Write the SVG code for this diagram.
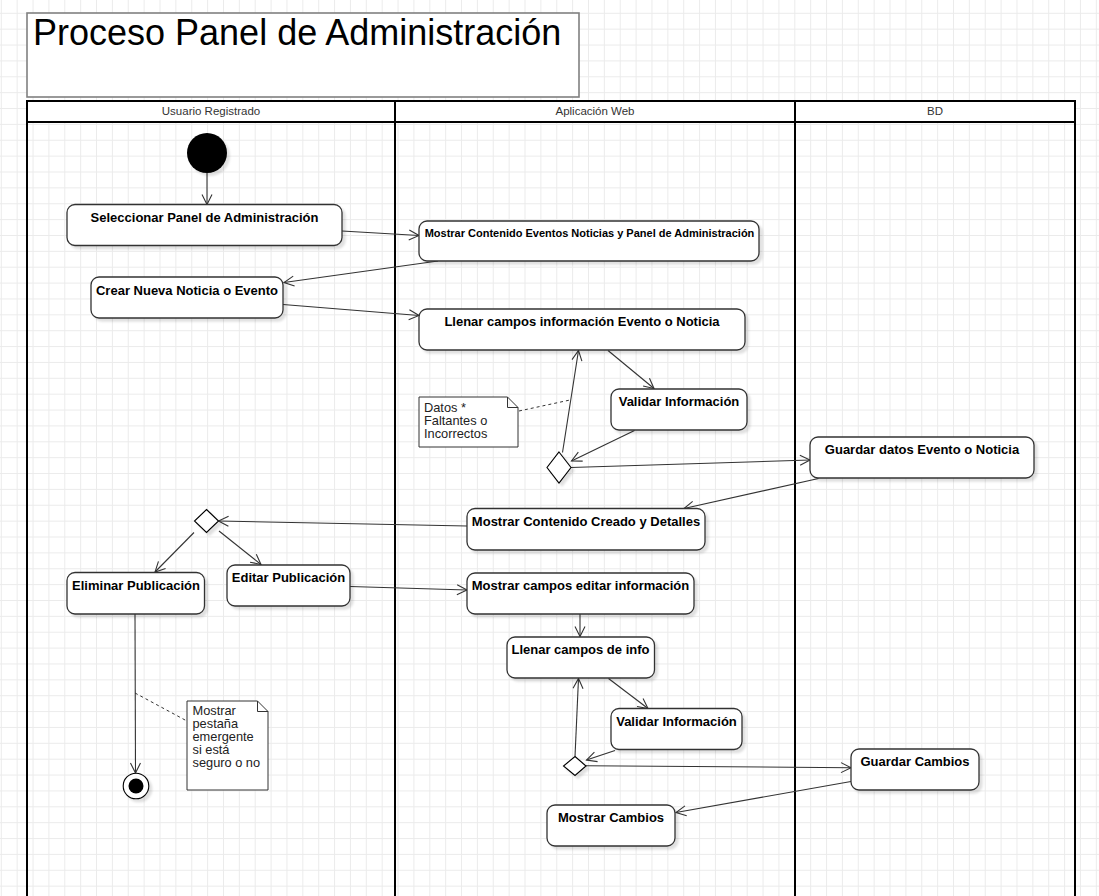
<svg xmlns="http://www.w3.org/2000/svg" width="1099" height="896" viewBox="0 0 1099 896">
<style>
.node{fill:#fff;stroke:#333;stroke-width:1.3}
.lbl{font-family:"Liberation Sans",Arial,sans-serif;font-size:13px;font-weight:bold;fill:#000;text-anchor:middle}
.lbl.small{font-size:11px}
.lane{fill:none;stroke:#000;stroke-width:2}
.hdr{font-family:"Liberation Sans",Arial,sans-serif;font-size:11.5px;fill:#333;text-anchor:middle}
.note{fill:#fff;stroke:#333;stroke-width:1}
.ntxt{font-family:"Liberation Sans",Arial,sans-serif;font-size:12.8px;fill:#222}
.edge{fill:none;stroke:#333;stroke-width:1.1;marker-end:url(#arr)}
.dash{fill:none;stroke:#333;stroke-width:1;stroke-dasharray:3 3}
.dia{fill:#fff;stroke:#000;stroke-width:1.1}
</style>
<defs>
<pattern id="grid" patternUnits="userSpaceOnUse" x="0.8" y="12.8" width="15.87" height="15.87">
<path d="M0.5,0 V15.87 M0,0.5 H15.87" stroke="#ebebeb" stroke-width="1" fill="none"/>
</pattern>
<filter id="sh" x="-20%" y="-20%" width="150%" height="160%">
<feDropShadow dx="3" dy="3" stdDeviation="1" flood-color="#000" flood-opacity="0.12"/>
</filter>
<marker id="arr" markerUnits="userSpaceOnUse" markerWidth="14" markerHeight="12" refX="10" refY="5" orient="auto" overflow="visible">
<path d="M0,0 L10,5 L0,10" fill="none" stroke="#333" stroke-width="1.1"/>
</marker>
</defs>
<rect width="1099" height="896" fill="#fff"/>
<rect width="1099" height="896" fill="url(#grid)"/>

<g id="title">
<rect x="27" y="13" width="552" height="84" fill="#fff" stroke="#808080" stroke-width="1.6"/>
<text x="33" y="45" font-family="'Liberation Sans',Arial,sans-serif" font-size="36" fill="#000">Proceso Panel de Administración</text>
</g>

<g id="pool">
<rect x="27" y="101" width="1048" height="21" fill="#fff"/>
<path class="lane" d="M27,101 H1075 M27,122 H1075 M27,100 V896 M395,100 V896 M795,100 V896 M1075,100 V896"/>
<text class="hdr" x="211" y="114.5">Usuario Registrado</text>
<text class="hdr" x="595" y="114.5">Aplicación Web</text>
<text class="hdr" x="935" y="114.5">BD</text>
</g>

<g id="connectors">
<line class="edge" x1="207" y1="173" x2="207" y2="204.5"/>
<line class="edge" x1="342" y1="231" x2="419" y2="235.5"/>
<line class="edge" x1="438" y1="261" x2="284" y2="282.5"/>
<line class="edge" x1="283" y1="304.5" x2="419" y2="315.5"/>
<line class="edge" x1="608" y1="350.5" x2="654" y2="388.5"/>
<line class="edge" x1="634.5" y1="430.5" x2="571.5" y2="461"/>
<line class="edge" x1="562.5" y1="452.5" x2="578.5" y2="350.5"/>
<line class="dash" x1="519" y1="411" x2="570" y2="400"/>
<line class="edge" x1="571" y1="467.5" x2="810" y2="460"/>
<line class="edge" x1="818.5" y1="478.5" x2="684" y2="508.5"/>
<line class="edge" x1="467" y1="526" x2="218.5" y2="521"/>
<line class="edge" x1="194" y1="532.5" x2="155" y2="572"/>
<line class="edge" x1="219" y1="531" x2="261" y2="564.5"/>
<line class="edge" x1="350" y1="586.5" x2="467" y2="590"/>
<line class="edge" x1="580" y1="614" x2="580" y2="636.5"/>
<line class="edge" x1="608.5" y1="678.5" x2="648" y2="708.5"/>
<line class="edge" x1="615" y1="750.5" x2="586.5" y2="760"/>
<line class="edge" x1="575" y1="756.5" x2="578.5" y2="678.5"/>
<line class="edge" x1="586" y1="765.7" x2="851" y2="767.7"/>
<line class="edge" x1="851" y1="781.5" x2="676" y2="812.5"/>
<line class="edge" x1="135" y1="614" x2="135.5" y2="773"/>
<line class="dash" x1="135" y1="693" x2="186" y2="720.5"/>
</g>

<g id="start" filter="url(#sh)"><circle cx="207" cy="153" r="20" fill="#000"/></g>

<g id="n-seleccionar"><rect class="node" filter="url(#sh)" x="67" y="204.5" width="275" height="41" rx="8"/><text class="lbl" x="204.5" y="222">Seleccionar Panel de Administración</text></g>
<g id="n-mostrar-contenido"><rect class="node" filter="url(#sh)" x="419" y="221" width="340" height="40" rx="8"/><text class="lbl small" x="589.5" y="237">Mostrar Contenido Eventos Noticias y Panel de Administración</text></g>
<g id="n-crear"><rect class="node" filter="url(#sh)" x="91" y="277" width="192" height="41" rx="8"/><text class="lbl" x="187" y="294.5">Crear Nueva Noticia o Evento</text></g>
<g id="n-llenar"><rect class="node" filter="url(#sh)" x="419" y="309" width="326" height="41" rx="8"/><text class="lbl" x="582" y="326">Llenar campos información Evento o Noticia</text></g>
<g id="n-validar1"><rect class="node" filter="url(#sh)" x="611" y="389" width="136" height="41" rx="8"/><text class="lbl" x="679" y="406">Validar Información</text></g>
<g id="note1"><path class="note" d="M419,397 H507.5 L518,407.5 V447 H419 Z M507.5,397 V407.5 H518"/><text class="ntxt"><tspan x="424" y="411.5">Datos *</tspan><tspan x="424" y="424.7">Faltantes o</tspan><tspan x="424" y="437.9">Incorrectos</tspan></text></g>
<g id="d1" filter="url(#sh)"><path class="dia" d="M559,452 L571,467.5 L559,483 L547,467.5 Z"/></g>
<g id="n-guardar-datos"><rect class="node" filter="url(#sh)" x="810" y="437" width="224" height="41" rx="8"/><text class="lbl" x="922" y="453.5">Guardar datos Evento o Noticia</text></g>
<g id="n-mostrar-creado"><rect class="node" filter="url(#sh)" x="467" y="508.5" width="238" height="41.5" rx="8"/><text class="lbl" x="586" y="526">Mostrar Contenido Creado y Detalles</text></g>
<g id="d2" filter="url(#sh)"><path class="dia" d="M206.5,509.5 L218.5,521 L206.5,532.5 L194.5,521 Z"/></g>
<g id="n-eliminar"><rect class="node" filter="url(#sh)" x="67" y="572.5" width="137.5" height="41.5" rx="8"/><text class="lbl" x="136" y="590">Eliminar Publicación</text></g>
<g id="n-editar"><rect class="node" filter="url(#sh)" x="227" y="565" width="123" height="41" rx="8"/><text class="lbl" x="288.5" y="582">Editar Publicación</text></g>
<g id="n-mostrar-campos"><rect class="node" filter="url(#sh)" x="467" y="573" width="227" height="41" rx="8"/><text class="lbl" x="580.5" y="589.5">Mostrar campos editar información</text></g>
<g id="n-llenar-info"><rect class="node" filter="url(#sh)" x="507" y="637" width="147.5" height="41" rx="8"/><text class="lbl" x="580.5" y="653.5">Llenar campos de info</text></g>
<g id="n-validar2"><rect class="node" filter="url(#sh)" x="611" y="708.5" width="131" height="41" rx="8"/><text class="lbl" x="676.5" y="725.5">Validar Información</text></g>
<g id="d3" filter="url(#sh)"><path class="dia" d="M575,756.5 L586,766 L575,775.5 L563.5,766 Z"/></g>
<g id="n-guardar-cambios"><rect class="node" filter="url(#sh)" x="851" y="749" width="128" height="41" rx="8"/><text class="lbl" x="915" y="766">Guardar Cambios</text></g>
<g id="n-mostrar-cambios"><rect class="node" filter="url(#sh)" x="547" y="805" width="128" height="41" rx="8"/><text class="lbl" x="611" y="822">Mostrar Cambios</text></g>
<g id="note2"><path class="note" d="M187,701 H257.5 L268,711.5 V790 H187 Z M257.5,701 V711.5 H268"/><text class="ntxt"><tspan x="192.5" y="714.5">Mostrar</tspan><tspan x="192.5" y="727.7">pestaña</tspan><tspan x="192.5" y="740.9">emergente</tspan><tspan x="192.5" y="754.1">si está</tspan><tspan x="192.5" y="767.3">seguro o no</tspan></text></g>
<g id="end" filter="url(#sh)"><circle cx="136" cy="786" r="12.8" fill="#fff" stroke="#000" stroke-width="1.1"/><circle cx="136" cy="786" r="7.5" fill="#000"/></g>
</svg>
